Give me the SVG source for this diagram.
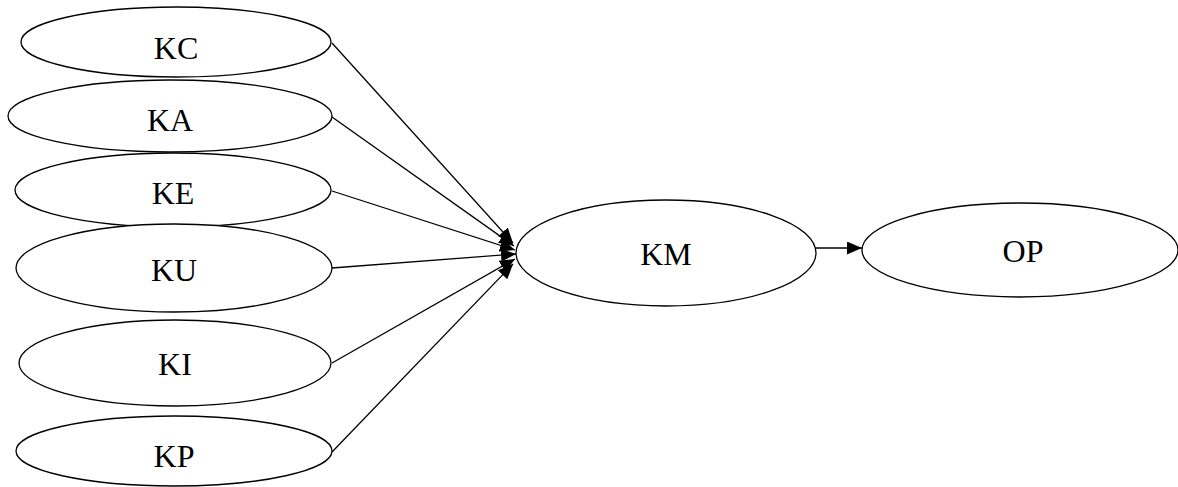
<svg xmlns="http://www.w3.org/2000/svg" width="1178" height="487" viewBox="0 0 1178 487">
<style>
.node ellipse{fill:#fff;stroke:#000;stroke-width:1.3}
.node text{font-family:'Liberation Serif','Times New Roman',serif;font-size:32px;fill:#000;text-anchor:middle}
.edge line{stroke:#000;stroke-width:1.3}
</style>
<defs>
<marker id="ah" markerUnits="userSpaceOnUse" markerWidth="16" markerHeight="14" refX="15" refY="6.5" orient="auto">
<path d="M0,0 L15,6.5 L0,13 z" fill="#000"/>
</marker>
</defs>
<rect width="1178" height="487" fill="#fff"/>
<g id="KC" class="node"><ellipse cx="176" cy="42" rx="155" ry="35"/><text x="176" y="59">KC</text></g>
<g id="KA" class="node"><ellipse cx="170" cy="116" rx="162" ry="36"/><text x="170" y="131">KA</text></g>
<g id="KE" class="node"><ellipse cx="173" cy="190" rx="158" ry="37"/><text x="173" y="204">KE</text></g>
<g id="KU" class="node"><ellipse cx="174" cy="268" rx="158" ry="44"/><text x="174" y="281">KU</text></g>
<g id="KI" class="node"><ellipse cx="175" cy="363" rx="156" ry="43"/><text x="175" y="375">KI</text></g>
<g id="KP" class="node"><ellipse cx="174" cy="451" rx="158" ry="35"/><text x="174" y="467">KP</text></g>
<g id="KM" class="node"><ellipse cx="666" cy="253" rx="150" ry="53"/><text x="666" y="265">KM</text></g>
<g id="OP" class="node"><ellipse cx="1020" cy="250" rx="158" ry="47"/><text x="1023" y="262">OP</text></g>
<g id="edges" class="edge">
<line x1="332" y1="43" x2="513" y2="243" marker-end="url(#ah)"/>
<line x1="332" y1="117" x2="514" y2="246" marker-end="url(#ah)"/>
<line x1="332" y1="191" x2="515" y2="250" marker-end="url(#ah)"/>
<line x1="332" y1="268" x2="516" y2="254" marker-end="url(#ah)"/>
<line x1="332" y1="363" x2="515" y2="259" marker-end="url(#ah)"/>
<line x1="332" y1="452" x2="513" y2="264" marker-end="url(#ah)"/>
<line x1="816" y1="248" x2="862" y2="248" marker-end="url(#ah)"/>
</g>
</svg>
